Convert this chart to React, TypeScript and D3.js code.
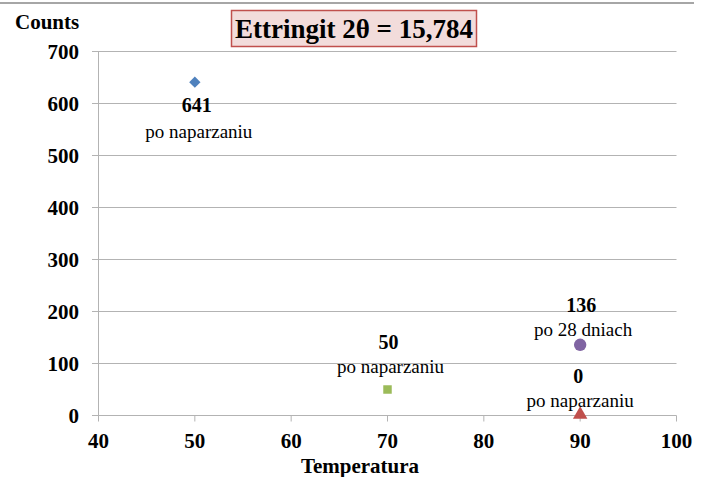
import React from "react";
import * as d3 from "d3";

const temps = [50, 70, 90, 90];
const counts = [641, 50, 136, 0];
const valueLabels = ["641", "50", "136", "0"];
const descLabels = ["po naparzaniu", "po naparzaniu", "po 28 dniach", "po naparzaniu"];
const shapes = ["diamond", "square", "circle", "triangle"];
const colors = ["#4f81bd", "#9bbb59", "#8064a2", "#c0504d"];
const xTicks = [40, 50, 60, 70, 80, 90, 100];
const yTicks = [0, 100, 200, 300, 400, 500, 600, 700];
const title = "Ettringit 2θ = 15,784";
const yTitle = "Counts";
const xTitle = "Temperatura";

// layout (not data)
const labelBelow = [true, false, false, false];
const labelDy = [0, -8, 0, 0];
const labelDx = [4, 3, 3, 0];

const W = 707, H = 477;
const serif = "Liberation Serif, Times New Roman, serif";
const ff = { fontFamily: serif };

export default function App() {
  const x = d3.scaleLinear().domain([40, 100]).range([98.5, 676.5]);
  const y = d3.scaleLinear().domain([0, 700]).range([415.5, 51.5]);
  const symbolType: Record<string, any> = {
    diamond: d3.symbolSquare,
    square: d3.symbolSquare,
    circle: d3.symbolCircle,
    triangle: d3.symbolTriangle,
  };
  const symbolSize: Record<string, number> = { diamond: 64, square: 72, circle: 120, triangle: 90 };

  return (
    <svg width={W} height={H} style={{ position: "absolute", left: 0, top: 0, background: "#fff", fontFamily: serif }}>
      <rect x={0} y={0} width={W} height={H} fill="#fff" />
      <line x1={0} x2={694} y1={3} y2={3} stroke="#a6a6a6" strokeWidth={2} />
      {yTicks.map((t) => (
        <g key={"y" + t}>
          <line x1={92} x2={676.5} y1={y(t)} y2={y(t)} stroke="#b3b3b3" strokeWidth={1} />
          <text x={79} y={y(t)} dy="0.35em" textAnchor="end" fontSize={21} fontWeight="bold" fill="#000" style={ff}>{t}</text>
        </g>
      ))}
      <line x1={x(40)} x2={x(40)} y1={y(700)} y2={y(0)} stroke="#b3b3b3" strokeWidth={1} />
      {xTicks.map((t) => (
        <g key={"x" + t}>
          <line x1={x(t)} x2={x(t)} y1={y(0)} y2={y(0) + 6} stroke="#b3b3b3" strokeWidth={1} />
          <text x={x(t)} y={441} dy="0.35em" textAnchor="middle" fontSize={21} fontWeight="bold" fill="#000" style={ff}>{t}</text>
        </g>
      ))}
      <text x={360} y={466} dy="0.35em" textAnchor="middle" fontSize={21} fontWeight="bold" style={ff}>{xTitle}</text>
      <text x={15} y={22} dy="0.35em" textAnchor="start" fontSize={21} fontWeight="bold" style={ff}>{yTitle}</text>

      <rect x={231.5} y={10.5} width={245} height={36} fill="#f2dcdb" stroke="#c0504d" strokeWidth={1.5} />
      <text x={354} y={29} dy="0.35em" textAnchor="middle" fontSize={27} fontWeight="bold" style={ff}>{title}</text>

      {temps.map((t, i) => {
        const px = x(t), py = y(counts[i]);
        const path = d3.symbol().type(symbolType[shapes[i]]).size(symbolSize[shapes[i]])() as string;
        const rot = shapes[i] === "diamond" ? 45 : 0;
        const ty = shapes[i] === "triangle" ? -1 : 0;
        const v = labelBelow[i] ? py + 23 : py - 40 + labelDy[i];
        const d = labelBelow[i] ? py + 49 : py - 15 + labelDy[i];
        return (
          <g key={"p" + i}>
            <path d={path} transform={`translate(${px},${py + ty}) rotate(${rot})`} fill={colors[i]} />
            <text x={px + labelDx[i] - 2} y={v} dy="0.35em" textAnchor="middle" fontSize={20} fontWeight="bold" style={ff}>{valueLabels[i]}</text>
            <text x={px + labelDx[i]} y={d} dy="0.35em" textAnchor="middle" fontSize={19} style={ff}>{descLabels[i]}</text>
          </g>
        );
      })}
    </svg>
  );
}
